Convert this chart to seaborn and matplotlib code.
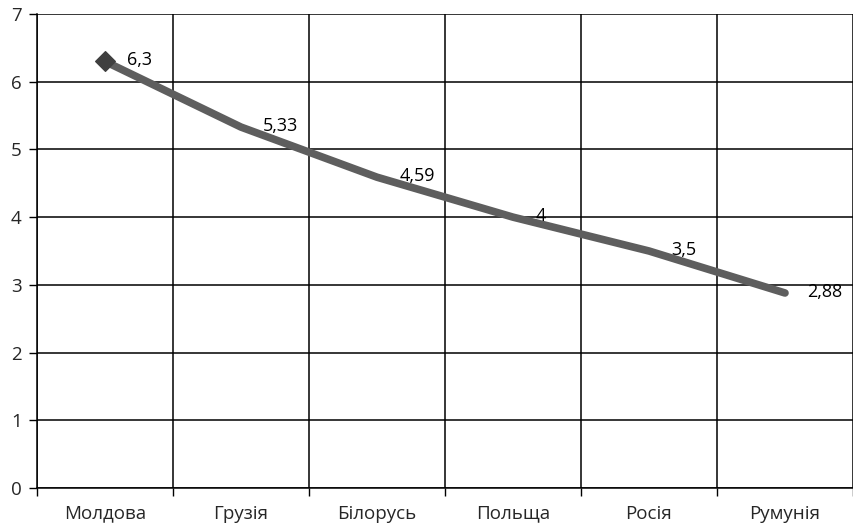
import matplotlib
matplotlib.use('Agg')
import matplotlib.pyplot as plt
import seaborn as sns
import pandas as pd

# Дані
countries = ['Молдова', 'Грузія', 'Білорусь', 'Польща', 'Росія', 'Румунія']
values = [6.3, 5.33, 4.59, 4.0, 3.5, 2.88]
labels = ['6,3', '5,33', '4,59', '4', '3,5', '2,88']

df = pd.DataFrame({'country': countries, 'value': values})
df['pos'] = range(len(df))

sns.set_style('white')
plt.rcParams['font.family'] = ['Open Sans', 'DejaVu Sans']

fig = plt.figure(figsize=(8.54, 5.26), dpi=100)
ax = fig.add_axes([37 / 854, 1 - 488 / 526, 816 / 854, 474 / 526])

sns.lineplot(data=df, x='pos', y='value', ax=ax, color='#5e5e5e',
             linewidth=5.5, solid_capstyle='round', solid_joinstyle='round')
ax.scatter(df['pos'][:1], df['value'][:1], marker='D', s=100,
           color='#3f3f3f', edgecolor='#3f3f3f', zorder=5)

for x, y, t in zip(df['pos'], df['value'], labels):
    ax.annotate(t, (x, y), xytext=(16, 1), textcoords='offset points',
                ha='left', va='center', fontsize=13, color='black', zorder=6)

ax.set_xlim(-0.5, len(countries) - 0.5)
ax.set_ylim(0, 7)
ax.set_yticks(range(8))
ax.set_xticks(df['pos'])
ax.set_xticklabels(countries)
ax.set_xticks([i - 0.5 for i in range(len(countries) + 1)], minor=True)
ax.set_xlabel('')
ax.set_ylabel('')

ax.grid(True, axis='y', which='major', color='black', linewidth=1.1)
ax.grid(True, axis='x', which='minor', color='black', linewidth=1.1)
ax.set_axisbelow(True)

ax.tick_params(axis='x', which='major', length=0, pad=12, labelsize=13.5)
ax.tick_params(axis='x', which='minor', length=6, width=1, color='black',
               direction='out', bottom=True)
ax.tick_params(axis='y', length=6, width=1, color='black', direction='out',
               left=True, labelsize=13.5, pad=5)

for s in ['top', 'right']:
    ax.spines[s].set_visible(False)
for s in ['left', 'bottom']:
    ax.spines[s].set_color('black')
    ax.spines[s].set_linewidth(1.1)

fig.savefig('out.png', dpi=100)
